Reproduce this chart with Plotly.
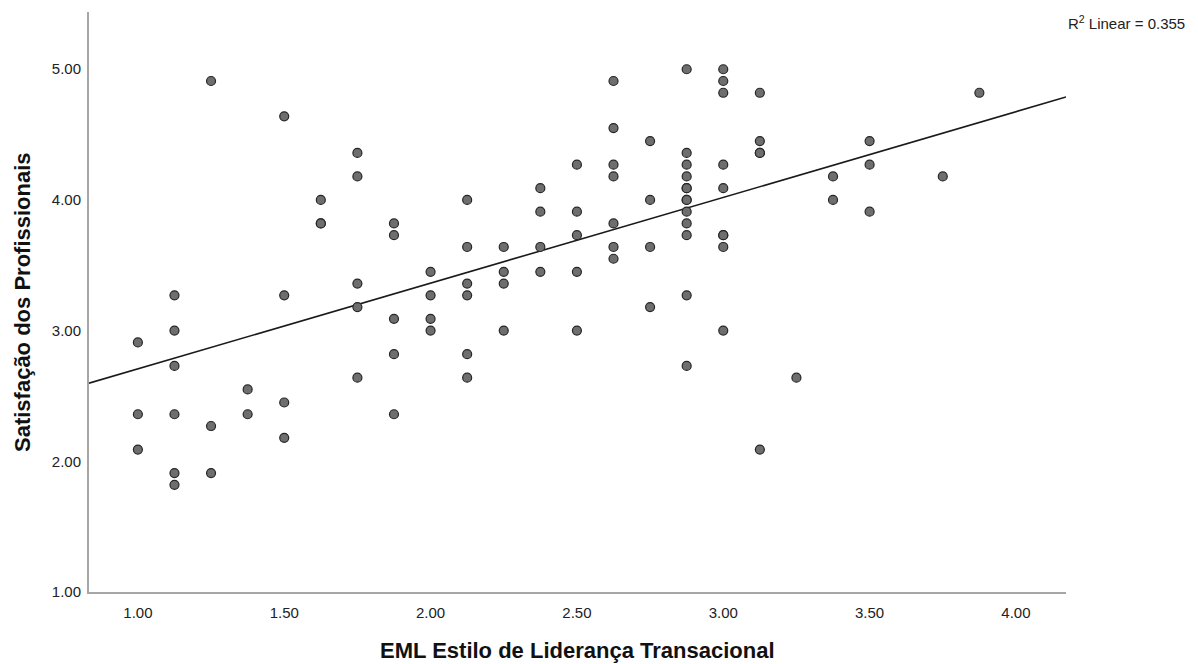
import numpy as np
import plotly.graph_objects as go

# Data: x = leadership style score, y = satisfaction score
x_vals = [1.0, 1.0, 1.0,
          1.125, 1.125, 1.125, 1.125, 1.125, 1.125,
          1.25, 1.25, 1.25,
          1.375, 1.375,
          1.5, 1.5, 1.5, 1.5,
          1.625, 1.625, 1.625,
          1.75, 1.75, 1.75, 1.75, 1.75,
          1.875, 1.875, 1.875, 1.875, 1.875,
          2.0, 2.0, 2.0, 2.0,
          2.125, 2.125, 2.125, 2.125, 2.125, 2.125,
          2.25, 2.25, 2.25, 2.25,
          2.375, 2.375, 2.375, 2.375,
          2.5, 2.5, 2.5, 2.5, 2.5,
          2.625, 2.625, 2.625, 2.625, 2.625, 2.625, 2.625,
          2.75, 2.75, 2.75, 2.75,
          2.875, 2.875, 2.875, 2.875, 2.875, 2.875, 2.875, 2.875, 2.875, 2.875, 2.875, 2.875, 2.875,
          3.0, 3.0, 3.0, 3.0, 3.0, 3.0, 3.0, 3.0, 3.0,
          3.125, 3.125, 3.125, 3.125, 3.125,
          3.25,
          3.375, 3.375,
          3.5, 3.5, 3.5,
          3.75,
          3.875]
y_vals = [2.91, 2.36, 2.09,
          3.27, 3.00, 2.73, 2.36, 1.91, 1.82,
          4.91, 2.27, 1.91,
          2.55, 2.36,
          4.64, 3.27, 2.45, 2.18,
          4.00, 3.82, 3.82,
          4.36, 4.18, 3.36, 3.18, 2.64,
          3.82, 3.73, 3.09, 2.82, 2.36,
          3.45, 3.27, 3.09, 3.00,
          4.00, 3.64, 3.36, 3.27, 2.82, 2.64,
          3.64, 3.45, 3.36, 3.00,
          4.09, 3.91, 3.64, 3.45,
          4.27, 3.91, 3.73, 3.45, 3.00,
          4.91, 4.55, 4.27, 4.18, 3.82, 3.64, 3.55,
          4.45, 4.00, 3.64, 3.18,
          5.00, 4.36, 4.27, 4.18, 4.09, 4.09, 4.00, 4.00, 3.91, 3.82, 3.73, 3.27, 2.73,
          5.00, 4.91, 4.82, 4.27, 4.09, 3.73, 3.73, 3.64, 3.00,
          4.82, 4.45, 4.36, 4.36, 2.09,
          2.64,
          4.18, 4.00,
          4.45, 4.27, 3.91,
          4.18,
          4.82]

x_ticks = [1.0, 1.5, 2.0, 2.5, 3.0, 3.5, 4.0]
x_tick_labels = ["1.00", "1.50", "2.00", "2.50", "3.00", "3.50", "4.00"]
y_ticks = [1.0, 2.0, 3.0, 4.0, 5.0]
y_tick_labels = ["1.00", "2.00", "3.00", "4.00", "5.00"]
x_title = "EML Estilo de Liderança Transacional"
y_title = "Satisfação dos Profissionais"
r2_text = "R<sup>2</sup> Linear = 0.355"

x_range = [0.833, 4.171]
y_range = [1.0, 5.438]

# Linear fit line across the axis range
slope, intercept = np.polyfit(np.array(x_vals), np.array(y_vals), 1)
line_x = np.array(x_range)
line_y = intercept + slope * line_x

FONT = "Liberation Sans, Arial, sans-serif"

fig = go.Figure()
fig.add_trace(go.Scatter(
    x=line_x, y=line_y, mode="lines",
    line=dict(color="#1a1a1a", width=1.6),
    hoverinfo="skip", showlegend=False, cliponaxis=True,
))
fig.add_trace(go.Scatter(
    x=x_vals, y=y_vals, mode="markers",
    marker=dict(size=9, color="#6e6e6e", line=dict(color="#262626", width=1.2)),
    showlegend=False, cliponaxis=False,
))

fig.update_layout(
    width=1190, height=656,
    margin=dict(l=81, r=132, t=4, b=72),
    paper_bgcolor="white", plot_bgcolor="white",
    font=dict(family=FONT, size=15, color="#222222"),
    xaxis=dict(
        range=x_range, tickvals=x_ticks, ticktext=x_tick_labels,
        showgrid=False, zeroline=False, showline=True, linecolor="#a6a6a6", linewidth=2,
        ticks="outside", ticklen=6, tickcolor="rgba(0,0,0,0)",
        tickfont=dict(family=FONT, size=15, color="#222222"),
    ),
    yaxis=dict(
        range=y_range, tickvals=y_ticks, ticktext=y_tick_labels,
        showgrid=False, zeroline=False, showline=True, linecolor="#a6a6a6", linewidth=2,
        ticks="outside", ticklen=3, tickcolor="rgba(0,0,0,0)",
        tickfont=dict(family=FONT, size=15, color="#222222"),
    ),
    annotations=[
        dict(text="<b>" + x_title + "</b>", xref="paper", yref="paper",
             x=0.5, y=0, yshift=-58, showarrow=False, xanchor="center", yanchor="middle",
             font=dict(family=FONT, size=22, color="#111111")),
        dict(text="<b>" + y_title + "</b>", xref="paper", yref="paper",
             x=0, xshift=-67, y=0.5, showarrow=False, textangle=-90,
             xanchor="center", yanchor="middle",
             font=dict(family=FONT, size=22, color="#111111")),
        dict(text=r2_text, xref="paper", yref="paper",
             x=1, xshift=60, y=1, yshift=-10, showarrow=False,
             xanchor="center", yanchor="middle",
             font=dict(family=FONT, size=15, color="#222222")),
    ],
)

fig.write_html("out.html")
